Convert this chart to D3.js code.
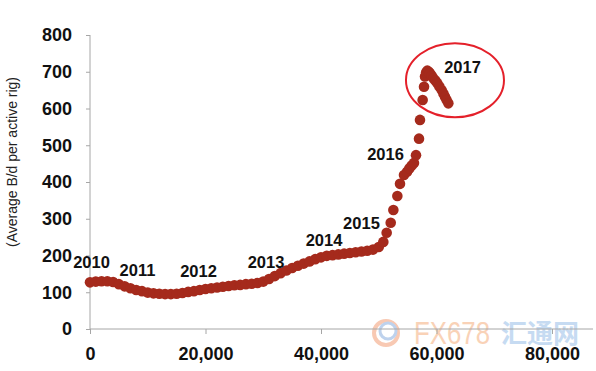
<!DOCTYPE html>
<html>
<head>
<meta charset="utf-8">
<script src="https://cdn.jsdelivr.net/npm/d3@7"></script>
<style>
  body { margin: 0; background: #fff; }
  svg { display: block; font-family: Arial, "Liberation Sans", sans-serif; }
  .axis path, .axis line { stroke: #a6a6a6; }
  .axis text { font-size: 18px; font-weight: bold; fill: #111; }
</style>
</head>
<body>
<div id="viz"></div>
<script>
// x values (horizontal axis) and average B/d per active rig
var xVals = [0, 1000, 2000, 3000, 4000, 5000, 6000, 7000, 8000, 9000,
  10000, 11000, 12000, 13000, 14000, 15000, 16000, 17000, 18000, 19000,
  20000, 21000, 22000, 23000, 24000, 25000, 26000, 27000, 28000, 29000,
  30000, 31000, 32000, 33000, 34000, 35000, 36000, 37000, 38000, 39000,
  40000, 41000, 42000, 43000, 44000, 45000, 46000, 47000, 48000, 49000,
  50000, 50790, 51370, 52070, 52530, 53220, 53680, 54370, 54900, 55290,
  55700, 56100, 56450, 56970, 57140, 57600, 57840, 58010, 58200, 58410,
  58650, 58870, 59150, 59450, 59800, 60140, 60500, 60900, 61200, 61470,
  61750, 62050];
var bdPerRig = [127, 129, 130, 130, 128, 122, 116, 111, 106, 103,
  99, 97, 96, 95, 95, 96, 98, 101, 103, 106,
  109, 111, 113, 115, 117, 119, 120, 122, 123, 125,
  129, 136, 144, 152, 159, 166, 172, 178, 184, 190,
  195, 199, 201, 203, 205, 207, 209, 211, 213, 216,
  223, 237, 262, 289, 324, 362, 395, 419, 428, 437,
  445, 452, 473, 518, 569, 623, 659, 687, 698, 703,
  700, 696, 690, 682, 676, 669, 660, 650, 641, 632,
  623, 614];

var yearLabels = ["2010", "2011", "2012", "2013", "2014", "2015", "2016", "2017"];
var yearX = [260, 8225, 18790, 30480, 40520, 47010, 51170, 64500];
var yearY = [182, 160, 158, 182, 242, 289, 476, 713];

var xTicks = [0, 20000, 40000, 60000, 80000];
var yTicks = [0, 100, 200, 300, 400, 500, 600, 700, 800];

var width = 596, height = 371;
var dotColor = "#a52a1c";

var svg = d3.select("#viz").append("svg")
    .attr("width", width)
    .attr("height", height);

var x = d3.scaleLinear().domain([0, 80000]).range([90, 552]);
var y = d3.scaleLinear().domain([0, 800]).range([329, 35]);

// watermark
var wm = svg.append("g").attr("class", "watermark").style("opacity", 0.75);
wm.append("circle").attr("cx", 386).attr("cy", 333).attr("r", 12)
  .style("fill", "none").style("stroke", "#f6b89a").style("stroke-width", 4);
wm.append("circle").attr("cx", 388).attr("cy", 331).attr("r", 8)
  .style("fill", "none").style("stroke", "#a9c4e8").style("stroke-width", 3);
wm.append("text").attr("x", 414).attr("y", 344)
  .attr("textLength", 76)
  .attr("lengthAdjust", "spacingAndGlyphs")
  .style("font-size", "32px").style("fill", "#f8c4a0")
  .text("FX678");
wm.append("text").attr("x", 501).attr("y", 343)
  .style("font-family", "'Noto Sans CJK SC'")
  .style("font-size", "26px").style("font-weight", "bold").style("fill", "#b3cfee")
  .text("汇通网");

// axes
var yAxis = d3.axisLeft(y).tickValues(yTicks).tickSize(4).tickPadding(14).tickSizeOuter(0);
var xAxis = d3.axisBottom(x).tickValues(xTicks).tickSize(5).tickPadding(13)
    .tickFormat(d3.format(","));

var gy = svg.append("g").attr("class", "axis")
    .attr("transform", "translate(" + x(0) + ",0)")
    .call(yAxis);
gy.select(".domain").remove();
gy.append("line").attr("x1", 0).attr("x2", 0)
  .attr("y1", y(800)).attr("y2", y(0));

var gx = svg.append("g").attr("class", "axis")
    .attr("transform", "translate(0," + y(0) + ")")
    .call(xAxis);
gx.select(".domain").remove();
gx.append("line").attr("x1", x(0)).attr("x2", x.range()[1] + 41)
  .attr("y1", 0).attr("y2", 0);

// y-axis title
svg.append("text")
  .attr("transform", "translate(17," + 162 + ") rotate(-90)")
  .attr("text-anchor", "middle")
  .attr("textLength", 170)
  .attr("lengthAdjust", "spacingAndGlyphs")
  .style("font-size", "14px")
  .style("fill", "#222")
  .text("(Average B/d per active rig)");

// dots
svg.append("g").selectAll("circle")
  .data(xVals)
  .enter().append("circle")
  .attr("cx", function(d) { return x(d); })
  .attr("cy", function(d, i) { return y(bdPerRig[i]); })
  .attr("r", 5.3)
  .style("fill", dotColor);

// year labels
svg.append("g").selectAll("text")
  .data(yearLabels)
  .enter().append("text")
  .attr("x", function(d, i) { return x(yearX[i]); })
  .attr("y", function(d, i) { return y(yearY[i]); })
  .attr("dy", "0.36em")
  .attr("text-anchor", "middle")
  .style("font-size", "16.5px")
  .style("font-weight", "bold")
  .style("fill", "#111")
  .text(function(d) { return d; });

// red ellipse around 2017
svg.append("ellipse")
  .attr("cx", x(63200))
  .attr("cy", y(677))
  .attr("rx", 49)
  .attr("ry", 37)
  .style("fill", "none")
  .style("stroke", "#e4202a")
  .style("stroke-width", 2);
</script>
</body>
</html>
